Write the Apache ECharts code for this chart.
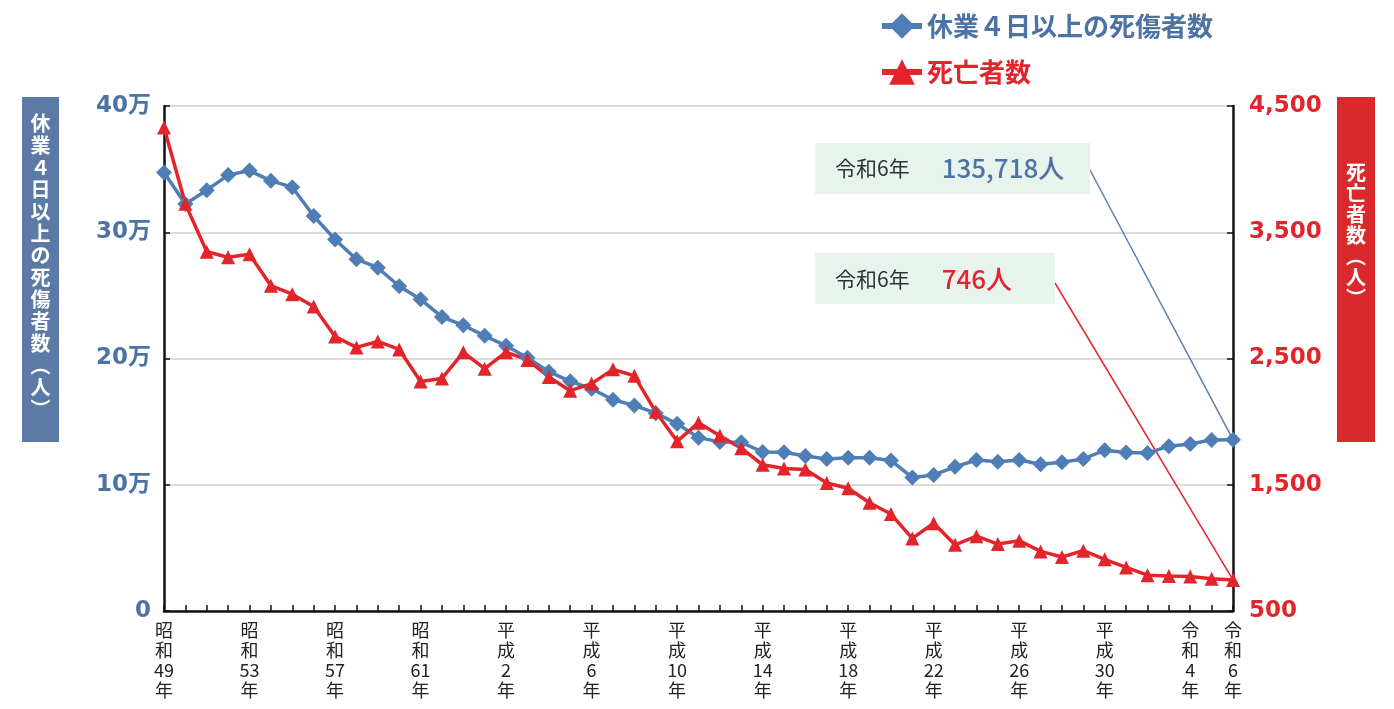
<!DOCTYPE html>
<html>
<head>
<meta charset="utf-8">
<script src="https://cdn.jsdelivr.net/npm/echarts@6/dist/echarts.min.js"></script>
<style>
  html, body { margin: 0; padding: 0; background: #fff; }
  #chart { width: 1394px; height: 709px; }
</style>
</head>
<body>
<div id="chart"></div>
<script>
// 年（昭和49年〜令和6年）
var years = [
  "昭和49年", "昭和50年", "昭和51年", "昭和52年", "昭和53年", "昭和54年", "昭和55年", "昭和56年",
  "昭和57年", "昭和58年", "昭和59年", "昭和60年", "昭和61年", "昭和62年", "昭和63年",
  "平成元年", "平成2年", "平成3年", "平成4年", "平成5年", "平成6年", "平成7年", "平成8年",
  "平成9年", "平成10年", "平成11年", "平成12年", "平成13年", "平成14年", "平成15年", "平成16年",
  "平成17年", "平成18年", "平成19年", "平成20年", "平成21年", "平成22年", "平成23年", "平成24年",
  "平成25年", "平成26年", "平成27年", "平成28年", "平成29年", "平成30年",
  "令和元年", "令和2年", "令和3年", "令和4年", "令和5年", "令和6年"
];

// 休業4日以上の死傷者数
var injuries = [
  347407, 322322, 333311, 345293, 348826, 340731, 335706, 312844, 294319, 278623,
  271884, 257240, 246891, 232953, 226318, 217964, 210108, 200633, 189589, 181900,
  176047, 167316, 162862, 156726, 148248, 137316, 133948, 133598, 125918, 125750,
  122804, 120354, 121378, 121356, 119291, 105718, 107759, 114176, 119576, 118157,
  119535, 116311, 117910, 120460, 127329, 125611, 125115, 130586, 132355, 135371, 135718
];

// 死亡者数
var deaths = [
  4330, 3725, 3345, 3302, 3326, 3077, 3009, 2912, 2674, 2588,
  2635, 2572, 2318, 2342, 2549, 2419, 2550, 2489, 2354, 2245,
  2301, 2414, 2363, 2078, 1844, 1992, 1889, 1790, 1658, 1628,
  1620, 1514, 1472, 1357, 1268, 1075, 1195, 1024, 1093, 1030,
  1057, 972, 928, 978, 909, 845, 784, 778, 774, 755, 746
];

var rightTicks = [500, 1500, 2500, 3500, 4500];

var BLUE = "#4f7db5";
var BLUE_TEXT = "#4d73a4";
var RED = "#e3242b";
var FONT = "Noto Sans CJK JP";
var NUM_FONT = "'DejaVu Sans', 'Noto Sans CJK JP'";

var chart = echarts.init(document.getElementById("chart"));

var option = {
  backgroundColor: "#fff",
  animation: false,
  textStyle: { fontFamily: FONT },
  grid: { left: 164, right: 161, top: 106, bottom: 98 },
  legend: {
    orient: "vertical",
    left: 874,
    top: 8,
    itemWidth: 40,
    itemHeight: 32,
    itemGap: 20,
    lineStyle: { width: 6 },
    textStyle: { fontSize: 26, fontWeight: "bold", fontFamily: FONT },
    data: [
      { name: "休業４日以上の死傷者数", textStyle: { color: BLUE_TEXT } },
      { name: "死亡者数", textStyle: { color: RED } }
    ]
  },
  xAxis: {
    type: "category",
    data: years,
    boundaryGap: false,
    axisLine: { lineStyle: { color: "#111", width: 2.5 } },
    axisTick: { inside: true, length: 6, interval: 0, lineStyle: { color: "#111", width: 1.5 } },
    axisLabel: {
      interval: function (i) { return i % 4 === 0 || i === years.length - 1; },
      margin: 9,
      fontSize: 18,
      lineHeight: 20,
      color: "#222",
      formatter: function (v) {
        var era = v.slice(0, 2);
        var num = v.slice(2, v.length - 1);
        return [era[0], era[1], num, "年"].join("\n");
      }
    }
  },
  yAxis: [
    {
      type: "value",
      min: 0,
      max: 400000,
      interval: 100000,
      axisLine: { show: true, lineStyle: { color: "#111", width: 2.5 } },
      axisTick: { show: true, inside: true, length: 6, lineStyle: { color: "#111", width: 1.5 } },
      splitLine: { lineStyle: { color: "#cfcfcf", width: 1.5 } },
      axisLabel: {
        margin: 13,
        fontSize: 23,
        fontWeight: "bold",
        fontFamily: NUM_FONT,
        color: BLUE_TEXT,
        formatter: function (v) { return v === 0 ? "0" : v / 10000 + "万"; }
      }
    },
    {
      type: "value",
      min: 500,
      max: 4500,
      axisLine: { show: true, lineStyle: { color: "#111", width: 2.5 } },
      axisTick: { show: true, inside: true, length: 6, customValues: rightTicks, lineStyle: { color: "#111", width: 1.5 } },
      splitLine: { show: false },
      axisLabel: {
        margin: 16,
        fontSize: 23,
        fontWeight: "bold",
        fontFamily: NUM_FONT,
        color: RED,
        customValues: rightTicks,
        formatter: function (v) { return v.toLocaleString("en-US"); }
      }
    }
  ],
  series: [
    {
      name: "休業４日以上の死傷者数",
      type: "line",
      yAxisIndex: 0,
      data: injuries,
      showAllSymbol: true,
      symbol: "diamond",
      symbolSize: 16,
      lineStyle: { color: BLUE, width: 3.5 },
      itemStyle: { color: BLUE }
    },
    {
      name: "死亡者数",
      type: "line",
      yAxisIndex: 1,
      data: deaths,
      showAllSymbol: true,
      symbol: "triangle",
      symbolSize: 14,
      lineStyle: { color: RED, width: 3.5 },
      itemStyle: { color: RED }
    }
  ]
};

chart.setOption(option);

// 注記（令和6年の値）と引き出し線
var last = years.length - 1;
var p1 = chart.convertToPixel({ seriesIndex: 0 }, [last, injuries[last]]);
var p2 = chart.convertToPixel({ seriesIndex: 1 }, [last, deaths[last]]);

function vtext(s) { return s.split("").join("\n"); }

chart.setOption({
  graphic: [
    { type: "rect", shape: { x: 22, y: 97, width: 37, height: 345 }, style: { fill: "#5b7ba6" } },
    {
      type: "text", x: 40.5, y: 112,
      style: { text: vtext("休業４日以上の死傷者数︵人︶"), fill: "#fff", fontSize: 20, fontWeight: "bold",
        lineHeight: 22, align: "center", verticalAlign: "top", fontFamily: FONT }
    },
    { type: "rect", shape: { x: 1337, y: 97, width: 38, height: 345 }, style: { fill: "#d9292d" } },
    {
      type: "text", x: 1356, y: 162,
      style: { text: vtext("死亡者数︵人︶"), fill: "#fff", fontSize: 20, fontWeight: "bold",
        lineHeight: 21, align: "center", verticalAlign: "top", fontFamily: FONT }
    },
    { type: "line", shape: { x1: 1090, y1: 170, x2: p1[0], y2: p1[1] }, style: { stroke: "#5b80b0", lineWidth: 1.5 }, z: 1 },
    { type: "line", shape: { x1: 1055, y1: 283, x2: p2[0], y2: p2[1] }, style: { stroke: RED, lineWidth: 1.5 }, z: 1 },
    { type: "rect", shape: { x: 815, y: 143, width: 275, height: 51 }, style: { fill: "#e9f3ee" }, z: 2 },
    {
      type: "text", x: 835, y: 168, z: 3,
      style: {
        text: "{a|令和6年}{g| }{b|135,718人}", verticalAlign: "middle",
        rich: {
          a: { fontSize: 21, fill: "#333", fontFamily: FONT },
          g: { width: 32 },
          b: { fontSize: 26, fill: BLUE_TEXT, fontWeight: 500, fontFamily: FONT }
        }
      }
    },
    { type: "rect", shape: { x: 815, y: 253, width: 240, height: 51 }, style: { fill: "#e9f3ee" }, z: 2 },
    {
      type: "text", x: 835, y: 279, z: 3,
      style: {
        text: "{a|令和6年}{g| }{b|746人}", verticalAlign: "middle",
        rich: {
          a: { fontSize: 21, fill: "#333", fontFamily: FONT },
          g: { width: 32 },
          b: { fontSize: 26, fill: RED, fontWeight: 500, fontFamily: FONT }
        }
      }
    }
  ]
});

window.addEventListener("resize", function () {
  chart.resize();
});
</script>
</body>
</html>
